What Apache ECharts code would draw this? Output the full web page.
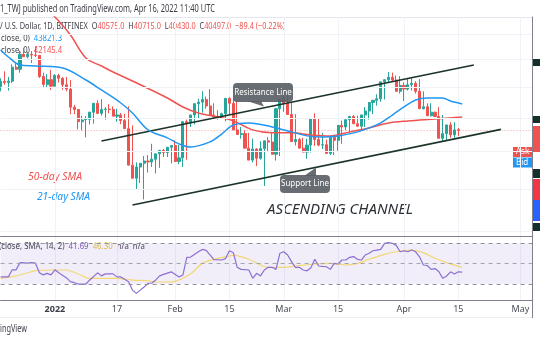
<!DOCTYPE html>
<html><head><meta charset="utf-8">
<script src="https://cdn.jsdelivr.net/npm/echarts@6/dist/echarts.min.js"></script>
<style>html,body{margin:0;padding:0;background:#fff}#c{width:540px;height:340px}</style>
</head><body><div id="c"></div>
<script>
// ---------- DATA ----------
const firstDay = '2021-12-18';
const lastAxisDay = '2022-05-04';
// daily candles, 2021-12-18 .. 2022-04-16
const opens = [46150,46850,46700,46900,48900,48600,50800,50450,50800,50700,50650,47550,46450,47100,
 46200,47700,47300,46400,45800,43400,43100,41550,41800,41850,42750,43900,42600,43100,43150,43100,42250,42400,41700,40700,36500,35100,36300,36700,36950,36850,37150,37750,38150,37900,
 38500,38700,36900,37300,41550,41400,42400,43850,44050,44400,43550,42400,42200,42100,42550,44550,43900,40550,40000,40100,38400,37050,38300,37250,38350,39250,39100,37700,
 43200,44400,43900,42450,39150,39400,38400,37950,38750,41950,39400,38750,38800,37800,39650,39300,41100,40900,41800,42200,41300,41000,42400,42900,44000,44300,44500,46800,47100,47450,47050,
 45500,46300,45800,46400,46600,45500,43200,43450,42300,42750,42200,39550,40100,41150,39950,40575];
const highs = [47300,48300,47500,49300,49500,51400,51800,51200,51300,52050,50700,48100,47900,48500,
 47900,47950,47500,47500,47050,43700,43150,42300,42250,42800,43000,44300,44450,43400,43800,43500,43200,42650,42550,43500,41100,36800,36500,37500,37600,38900,37200,38000,38300,38400,38700,
 39300,38800,37400,41800,41900,42600,44500,45500,44800,45800,43900,43000,42700,42900,44700,44550,44200,40900,40500,40200,39500,38400,39200,39000,39700,40300,39900,44200,
 44900,45400,44100,42500,39600,39600,39500,39400,42600,42000,40200,39400,39300,39900,39900,41700,41400,42300,42400,42300,42000,43400,43000,44200,45100,44800,46900,48200,48100,47700,47600,
 46700,47200,47400,46900,47200,45500,43900,43900,42800,43400,42400,40700,41500,41500,40800,40715];
const lows = [45500,46400,45600,46650,48500,48100,50500,50200,49500,50400,47350,46100,46000,45700,
 46200,46700,45700,45500,42500,42500,40600,40500,39650,41200,41300,42500,42300,41800,42600,42600,41550,41250,41100,40600,35500,34000,34600,32950,35700,36300,35600,36200,37400,37400,36700,
 38200,36600,36300,37100,40900,41200,42000,42700,43200,43200,42000,41800,41900,41600,42500,43300,40100,39500,39700,38000,36800,36400,37100,34300,38000,38600,37000,37500,
 42800,43400,41900,38700,38600,38100,37200,37900,38650,38600,38300,38700,37600,37600,38100,38900,40500,40200,41500,40900,40500,40900,41800,42500,43600,44100,44400,46700,46900,46600,45200,
 44200,45600,45600,45200,45400,43100,42800,42200,42200,42000,39200,39300,39600,39600,39800,40430];
const closes = [46850,46700,46900,48900,48600,50800,50450,50800,50700,50650,47550,46450,47100,46200,
 47700,47300,46400,45800,43400,43100,41550,41750,41850,42750,43900,42600,43100,43150,43100,42250,42400,41700,40700,36500,35100,36300,36700,36950,36850,37150,37750,38150,37900,38500,
 38700,36900,37300,41550,41400,42400,43850,44050,44400,43550,42400,42200,42100,42550,44550,43900,40550,40000,40100,38400,37050,38300,37250,38350,39250,39100,37700,43200,
 44400,43900,42450,39150,39400,38400,37950,38750,41950,39400,38750,38800,37800,39650,39300,41100,40900,41800,42200,41300,41000,42400,42900,44000,44300,44500,46800,47100,47450,47050,45500,
 46300,45800,46400,46600,45500,43200,43450,42300,42750,42200,39550,40100,41150,39950,40550,40497];

const sma21Dates = ['2021-12-18','2021-12-20','2021-12-23','2021-12-27','2022-01-03','2022-01-09','2022-01-13','2022-01-18','2022-01-21','2022-01-25','2022-01-30','2022-02-02','2022-02-05','2022-02-10','2022-02-13','2022-02-16','2022-02-20','2022-02-26','2022-03-03','2022-03-07','2022-03-10','2022-03-15','2022-03-20','2022-03-23','2022-03-26','2022-03-29','2022-04-01','2022-04-04','2022-04-07','2022-04-11','2022-04-13','2022-04-16'];
const sma21Values = [51470,50410,49220,49070,48780,47060,45680,43940,42640,40550,39600,38890,38530,39120,40050,41150,41400,40910,40310,39830,39710,39830,40310,40790,41400,42390,43420,44330,44600,44600,44200,43821.3];

const sma50Dates = ['2021-12-18','2021-12-27','2022-01-01','2022-01-05','2022-01-09','2022-01-13','2022-01-16','2022-01-21','2022-01-30','2022-02-03','2022-02-07','2022-02-12','2022-02-16','2022-02-21','2022-02-26','2022-03-03','2022-03-08','2022-03-13','2022-03-18','2022-03-23','2022-03-28','2022-04-02','2022-04-09','2022-04-16'];
const sma50Values = [64000,59500,56800,53830,50260,49070,48200,46920,44600,43420,42640,42140,41650,40550,40190,40190,39950,39830,40310,40790,41400,41650,41890,42145.4];

const rsiDates = ['2021-12-18','2021-12-20','2021-12-21','2021-12-22','2021-12-23','2021-12-25','2021-12-26','2021-12-27','2021-12-28','2021-12-29','2021-12-30','2021-12-31','2022-01-01','2022-01-02','2022-01-04','2022-01-05','2022-01-06','2022-01-07','2022-01-09','2022-01-10','2022-01-12','2022-01-13','2022-01-14','2022-01-16','2022-01-17','2022-01-18','2022-01-20','2022-01-21','2022-01-22','2022-01-23','2022-01-24','2022-01-25','2022-01-26','2022-01-27','2022-01-28','2022-01-29','2022-01-31','2022-02-02','2022-02-03','2022-02-04','2022-02-05','2022-02-07','2022-02-08','2022-02-09','2022-02-11','2022-02-13','2022-02-14','2022-02-15','2022-02-16','2022-02-17','2022-02-18','2022-02-20','2022-02-21','2022-02-22','2022-02-23','2022-02-24','2022-02-25','2022-02-26','2022-02-27','2022-02-28','2022-03-01','2022-03-02','2022-03-03','2022-03-04','2022-03-05','2022-03-06','2022-03-07','2022-03-08','2022-03-09','2022-03-10','2022-03-11','2022-03-12','2022-03-13','2022-03-14','2022-03-15','2022-03-16','2022-03-17','2022-03-18','2022-03-19','2022-03-20','2022-03-21','2022-03-22','2022-03-23','2022-03-24','2022-03-25','2022-03-26','2022-03-27','2022-03-28','2022-03-29','2022-03-30','2022-03-31','2022-04-01','2022-04-02','2022-04-03','2022-04-04','2022-04-05','2022-04-06','2022-04-07','2022-04-08','2022-04-09','2022-04-10','2022-04-11','2022-04-12','2022-04-13','2022-04-14','2022-04-15','2022-04-16'];
const rsiValues = [37,37,44,44,51,50.5,51,50.5,41,39,40.5,39,44,41,36,32.3,31.3,30,30,34,41,38,40,40,37,37,32.3,24,20.8,24,27,30.7,31,34,38,39.5,42,37,38.8,56.2,56.5,61.7,64,63,54,53.6,55,62.7,60.8,46.4,44.4,43.8,35.6,40.5,38,43.8,46.4,46.4,44.4,60.2,61.7,58.5,52,46.4,46.4,43.8,43,46,54.3,47.7,47.3,47,44.4,50.3,49.7,53.6,53.6,56.2,57,54.3,53.6,58.5,60.2,62.7,63.4,64,70,70.6,70,68,61.7,62.7,61.7,63.4,61.7,56.8,48.7,48.2,44.4,45.2,42,35.6,37.9,42,39.8,42,41.69];

const rsiMaDates = ['2021-12-18','2021-12-21','2021-12-25','2021-12-27','2021-12-31','2022-01-04','2022-01-07','2022-01-10','2022-01-17','2022-01-21','2022-01-25','2022-01-27','2022-01-30','2022-02-01','2022-02-05','2022-02-08','2022-02-11','2022-02-15','2022-02-16','2022-02-20','2022-02-23','2022-02-25','2022-03-01','2022-03-04','2022-03-09','2022-03-13','2022-03-17','2022-03-20','2022-03-23','2022-03-27','2022-03-30','2022-04-03','2022-04-06','2022-04-09','2022-04-12','2022-04-16'];
const rsiMaValues = [35.6,37.2,41.1,43.1,43.8,43.8,39.8,35.6,35.6,33.9,33.2,32,32,32.6,40,50.3,54.3,57.5,58.5,54.3,48.7,46.4,46.4,47.7,49.7,50.3,48.7,50.3,54.3,59.2,61.7,63.4,60.8,55.3,51,46.3];

// channel drawings (date, price)
const resistanceLine = [['2022-01-13', 39230], ['2022-04-19', 49220]];
const supportLine = [['2022-01-21', 32400], ['2022-04-26', 40610]];
const lastPrice = 40497;
const priceGrid = [30000, 34000, 38000, 42000, 46000, 50000, 54000];
const rsiLevels = [30, 50, 70];

const tickDates = ['2022-01-01','2022-01-17','2022-02-01','2022-02-15','2022-03-01','2022-03-15','2022-04-01','2022-04-15','2022-05-01'];
const tickLabels = ['2022','17','Feb','15','Mar','15','Apr','15','May'];

// ---------- BUILD ----------
function addDays(s, n) { const d = new Date(s + 'T00:00:00Z'); d.setUTCDate(d.getUTCDate() + n); return d.toISOString().slice(0, 10); }
const axisDays = [];
for (let i = 0; i < 400; i++) { const s = addDays(firstDay, i); axisDays.push(s); if (s === lastAxisDay) break; }
const candleData = opens.map((o, i) => [o, closes[i], lows[i], highs[i]]);
const zip = (a, b) => a.map((d, i) => [d, b[i]]);

const FONT = 'Noto Sans';
const DARK = '#3b3e46';
const mctx = document.createElement('canvas').getContext('2d');
function textLine(segs, x, y, size, target, o) {
  o = o || {};
  const st = o.style || 'normal', wt = o.weight || 'normal';
  mctx.font = st + ' ' + wt + ' ' + size + 'px "' + FONT + '"';
  let cx = 0; const children = [];
  segs.forEach(s => {
    children.push({ type: 'text', x: cx, y: 0, style: { text: s[0], fill: s[1], fontSize: size, fontFamily: FONT, fontStyle: st, fontWeight: wt, verticalAlign: 'middle', align: 'left' } });
    cx += mctx.measureText(s[0]).width;
  });
  return { type: 'group', x: x, y: y, scaleX: target ? target / cx : 1, children: children, silent: true, z: 100 };
}

const chart = echarts.init(document.getElementById('c'), null, { renderer: 'canvas' });
const gridColor = '#eff2f7';
const frameColor = '#7f828c';

const isTick = (i, v) => tickDates.indexOf(v) >= 0;

chart.setOption({
  animation: false,
  backgroundColor: '#ffffff',
  grid: [
    { left: 0.6, right: 8, top: 17, height: 219 },
    { left: 0.6, right: 8, top: 236, height: 64 }
  ],
  xAxis: [
    { type: 'category', gridIndex: 0, data: axisDays, boundaryGap: false,
      axisLine: { show: true, lineStyle: { color: frameColor, width: 1 } }, axisTick: { show: false }, axisLabel: { show: false },
      splitLine: { show: true, interval: isTick, lineStyle: { color: gridColor, width: 1 } } },
    { type: 'category', gridIndex: 1, data: axisDays, boundaryGap: false,
      axisLine: { show: true, lineStyle: { color: frameColor, width: 1 } }, axisTick: { show: false },
      axisLabel: { show: true, interval: isTick, margin: 5, color: '#4a4d57', fontSize: 9, fontFamily: FONT,
        formatter: v => { const k = tickDates.indexOf(v); return k === 0 ? '{b|' + tickLabels[k] + '}' : tickLabels[k]; },
        rich: { b: { fontWeight: 'bold', fontSize: 9, fontFamily: FONT, color: '#3b3e46' } } },
      splitLine: { show: true, interval: isTick, lineStyle: { color: gridColor, width: 1 } } }
  ],
  yAxis: [
    { type: 'log', gridIndex: 0, min: 29540, max: 56800, position: 'right',
      axisLine: { show: true, lineStyle: { color: frameColor } }, axisTick: { show: false }, axisLabel: { show: false }, splitLine: { show: false } },
    { type: 'value', gridIndex: 1, min: 14.3, max: 77.2, position: 'right',
      axisLine: { show: true, lineStyle: { color: frameColor } }, axisTick: { show: false }, axisLabel: { show: false }, splitLine: { show: false } }
  ],
  series: [
    { type: 'line', name: 'priceGrid', xAxisIndex: 0, yAxisIndex: 0, data: [], z: 0, silent: true,
      markLine: { silent: true, symbol: ['none', 'none'], label: { show: false },
        data: priceGrid.map(p => ({ yAxis: p, lineStyle: { color: gridColor, type: 'solid', width: 1 } }))
          .concat([{ yAxis: lastPrice, lineStyle: { color: 'rgba(239,83,80,0.55)', type: [1, 2], width: 1 } }]) } },
    { type: 'candlestick', name: 'BTCUSD', xAxisIndex: 0, yAxisIndex: 0, data: candleData, barWidth: 2.6, z: 3,
      itemStyle: { color: '#26a69a', color0: '#ef5350', borderColor: '#26a69a', borderColor0: '#ef5350', borderWidth: 1 } },
    { type: 'line', name: 'SMA50', xAxisIndex: 0, yAxisIndex: 0, data: zip(sma50Dates, sma50Values), smooth: 0.35, showSymbol: false, z: 4,
      lineStyle: { color: '#ef5350', width: 1.5 } },
    { type: 'line', name: 'SMA21', xAxisIndex: 0, yAxisIndex: 0, data: zip(sma21Dates, sma21Values), smooth: 0.35, showSymbol: false, z: 5,
      lineStyle: { color: '#2196f3', width: 1.5 } },
    { type: 'line', name: 'channel', xAxisIndex: 0, yAxisIndex: 0, data: [], z: 6, silent: true,
      markLine: { silent: true, symbol: ['none', 'none'], label: { show: false }, lineStyle: { color: '#1c3329', width: 1.6, type: 'solid' },
        data: [
          [{ coord: resistanceLine[0] }, { coord: resistanceLine[1] }],
          [{ coord: supportLine[0] }, { coord: supportLine[1] }]
        ] } },
    { type: 'line', name: 'RSI', xAxisIndex: 1, yAxisIndex: 1, data: zip(rsiDates, rsiValues), showSymbol: false, z: 4,
      lineStyle: { color: '#8c6fd3', width: 1.2 },
      markArea: { silent: true, itemStyle: { color: 'rgba(126,87,194,0.1)' }, data: [[{ yAxis: 30 }, { yAxis: 70 }]] },
      markLine: { silent: true, symbol: ['none', 'none'], label: { show: false },
        data: rsiLevels.map(v => ({ yAxis: v, lineStyle: { color: v === 50 ? '#a3a6af' : '#8d9099', type: [4, 4], width: 1 } })) } },
    { type: 'line', name: 'RSI MA', xAxisIndex: 1, yAxisIndex: 1, data: zip(rsiMaDates, rsiMaValues), smooth: 0.3, showSymbol: false, z: 3,
      lineStyle: { color: '#f2d774', width: 1.2 } }
  ],
  graphic: [
    // frame lines
    { type: 'line', shape: { x1: 0, y1: 17.5, x2: 532, y2: 17.5 }, style: { stroke: '#e3e6ec', lineWidth: 1 }, silent: true },
    { type: 'line', shape: { x1: 532.5, y1: 300, x2: 532.5, y2: 318 }, style: { stroke: frameColor, lineWidth: 1 }, silent: true },
    { type: 'line', shape: { x1: 0, y1: 317.5, x2: 532, y2: 317.5 }, style: { stroke: '#eceef2', lineWidth: 1 }, silent: true },
    // right scale tags (cut off)
    { type: 'rect', shape: { x: 533, y: 59, width: 7, height: 7 }, style: { fill: '#13302a' }, silent: true },
    { type: 'rect', shape: { x: 533, y: 116, width: 7, height: 7 }, style: { fill: '#13302a' }, silent: true },
    { type: 'rect', shape: { x: 533, y: 126, width: 7, height: 26 }, style: { fill: '#ef5350' }, silent: true },
    { type: 'rect', shape: { x: 533, y: 169, width: 7, height: 9 }, style: { fill: '#13302a' }, silent: true },
    { type: 'rect', shape: { x: 533, y: 179, width: 7, height: 21 }, style: { fill: '#f23645' }, silent: true },
    { type: 'rect', shape: { x: 533, y: 200, width: 7, height: 21 }, style: { fill: '#2962ff' }, silent: true },
    { type: 'rect', shape: { x: 533, y: 223, width: 7, height: 8 }, style: { fill: '#13302a' }, silent: true },
    // Ask / Bid
    { type: 'rect', shape: { x: 513, y: 147, width: 20, height: 10 }, style: { fill: '#ef5350' }, silent: true },
    { type: 'text', x: 516, y: 152, style: { text: 'Ask', fill: '#fff', fontSize: 8, fontFamily: FONT, verticalAlign: 'middle' }, silent: true },
    { type: 'rect', shape: { x: 513, y: 157.5, width: 20, height: 10 }, style: { fill: '#2196f3' }, silent: true },
    { type: 'text', x: 516, y: 162.5, style: { text: 'Bid', fill: '#fff', fontSize: 8, fontFamily: FONT, verticalAlign: 'middle' }, silent: true },
    // callouts
    { type: 'rect', shape: { x: 233, y: 83, width: 60, height: 19, r: 4 }, style: { fill: 'rgba(88,93,100,0.9)' }, silent: true, z: 90 },
    { type: 'polygon', shape: { points: [[247, 101], [261, 101], [264, 106.5]] }, style: { fill: 'rgba(88,93,100,0.9)' }, silent: true, z: 90 },
    { type: 'text', x: 263, y: 92.5, style: { text: 'Resistance Line', fill: '#ffffff', fontSize: 8, fontFamily: FONT, align: 'center', verticalAlign: 'middle' }, silent: true, z: 91 },
    { type: 'rect', shape: { x: 280, y: 175, width: 50, height: 18, r: 4 }, style: { fill: 'rgba(88,93,100,0.9)' }, silent: true, z: 90 },
    { type: 'polygon', shape: { points: [[304, 176], [316, 176], [316, 167.5]] }, style: { fill: 'rgba(88,93,100,0.9)' }, silent: true, z: 90 },
    { type: 'text', x: 305, y: 184, style: { text: 'Support Line', fill: '#ffffff', fontSize: 8, fontFamily: FONT, align: 'center', verticalAlign: 'middle' }, silent: true, z: 91 },
    // texts
    textLine([['1_TWJ published on TradingView.com, Apr 16, 2022 11:40 UTC', DARK]], 0, 9, 10, 215),
    textLine([['/ U.S. Dollar, 1D, BITFINEX  ', DARK], ['O', DARK], ['40575.0', '#ef5350'], ['  H', DARK], ['40715.0', '#ef5350'], ['  L', DARK], ['40430.0', '#ef5350'], ['  C', DARK], ['40497.0', '#ef5350'], ['  −89.4 (−0.22%)', '#ef5350']], 0, 26, 9.5, 285),
    textLine([['close, 0)  ', DARK], ['43821.3', '#2196f3']], 1, 38.5, 9.5, 61),
    textLine([['close, 0)  ', DARK], ['42145.4', '#ef5350']], 1, 50, 9.5, 61),
    textLine([['(close, SMA, 14, 2)  ', DARK], ['41.69', '#7e57c2'], ['  ', DARK], ['46.30', '#e8c547'], ['  n/a  n/a', DARK]], -1, 246, 9.5, 146),
    textLine([['50-day SMA', '#ef5350']], 28, 177, 11, 54, { style: 'italic' }),
    textLine([['21-day SMA', '#2196f3']], 37, 197, 11, 53, { style: 'italic' }),
    textLine([['ASCENDING CHANNEL', '#2c3035']], 267, 210, 15, 146, { style: 'italic' }),
    textLine([['ingView', DARK]], 0, 329, 10, 27)
  ]
});
</script></body></html>
